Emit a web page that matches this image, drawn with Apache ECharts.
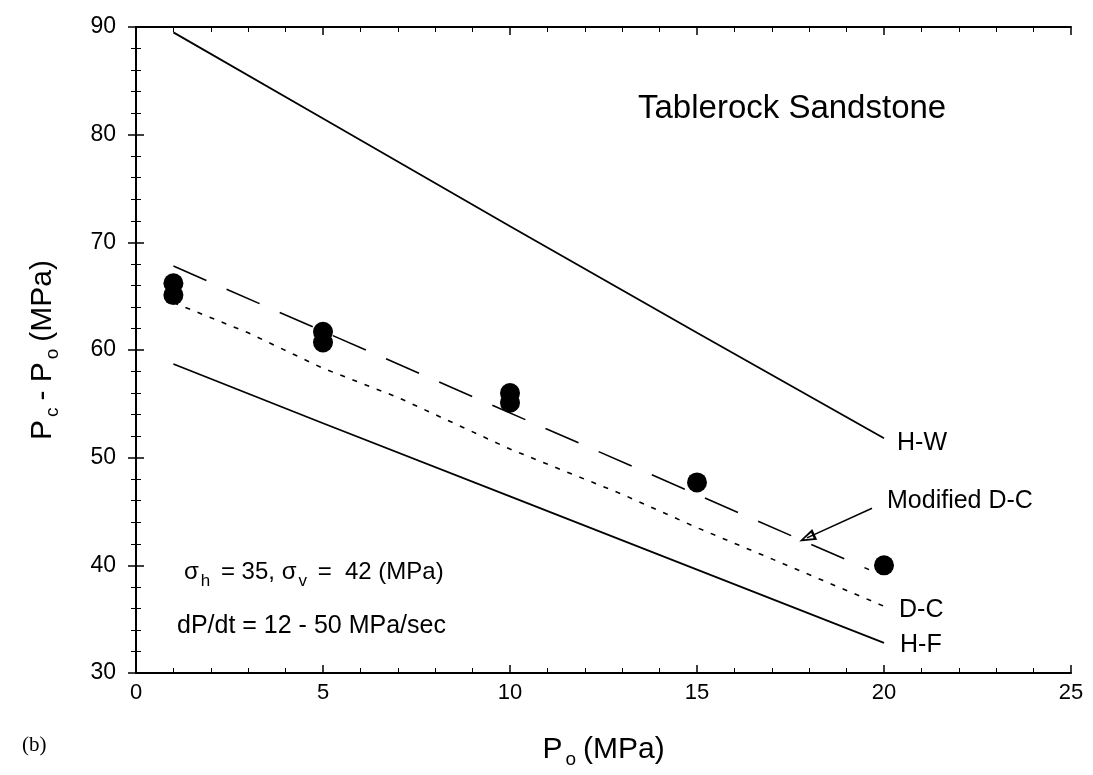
<!DOCTYPE html>
<html>
<head>
<meta charset="utf-8">
<title>Tablerock Sandstone</title>
<script src="https://cdn.jsdelivr.net/npm/echarts@6/dist/echarts.min.js"></script>
<style>
  html, body { margin: 0; padding: 0; background: #fff; }
  #chart { width: 1093px; height: 775px; }
</style>
</head>
<body>
<div id="chart"></div>
<script>
// 数据
const poHW = [1, 5, 10, 15, 20];
const valHW = [89.5, 81.5, 71.5, 61.6, 51.8];
const poHF = [1, 5, 10, 15, 20];
const valHF = [58.7, 53.2, 46.4, 39.6, 32.8];
const poDC = [1, 3, 5, 7, 10, 13, 15, 17, 20];
const valDC = [64.4, 61.6, 58.3, 55.6, 50.8, 46.6, 43.5, 40.6, 36.2];
const poMDC = [1, 19.6];
const valMDC = [67.8, 39.6];
const poTest = [1, 1, 5, 5, 10, 10, 15, 20];
const valTest = [66.2, 65.1, 61.7, 60.7, 56.0, 55.1, 47.7, 40.0];
const arrowFrom = [19.68, 45.3];
const arrowTo = [17.94, 42.55];
const xTicks = [0, 25, 5];   // min, max, interval
const yTicks = [30, 90, 10];

const FONT = '"Liberation Sans", Arial, sans-serif';
const zip = (xs, ys) => xs.map((x, i) => [x, ys[i]]);

const chart = echarts.init(document.getElementById('chart'), null, { renderer: 'canvas' });

// 坐标轴公共样式（刻度朝内，四边都有）
function axis(extra) {
  return Object.assign({
    type: 'value',
    axisLine: { lineStyle: { color: '#000', width: 2 } },
    axisTick: { inside: true, length: 8, lineStyle: { color: '#000', width: 1.5 } },
    minorTick: { show: true, splitNumber: 5, length: 5, lineStyle: { color: '#000', width: 1 } },
    splitLine: { show: false },
  }, extra);
}

const nameRich = {
  p: { fontFamily: FONT, fontSize: 30, color: '#000' },
  s: { fontFamily: FONT, fontSize: 19, color: '#000', padding: [19, 7, 0, 3] },
};

function lineSeries(name, data, type, label, offset) {
  return {
    name, type: 'line', data, symbol: 'none', z: 3,
    lineStyle: { color: '#000', width: type === 'solid' ? 1.8 : 1.6, type },
    endLabel: {
      show: !!label, formatter: label, color: '#000', fontFamily: FONT, fontSize: 25,
      offset: offset || [0, 0],
    },
  };
}

chart.setOption({
  backgroundColor: '#fff',
  animation: false,
  grid: { left: 136, right: 22, top: 27, bottom: 102 },
  xAxis: [
    axis({
      min: xTicks[0], max: xTicks[1], interval: xTicks[2],
      axisLabel: { color: '#000', fontFamily: FONT, fontSize: 22, margin: 9 },
      name: '{p|P}{s|o}{p|(MPa)}', nameLocation: 'middle', nameGap: 58,
      nameTextStyle: { rich: nameRich },
    }),
    axis({ position: 'top', min: xTicks[0], max: xTicks[1], interval: xTicks[2], axisLabel: { show: false } }),
  ],
  yAxis: [
    axis({
      min: yTicks[0], max: yTicks[1], interval: yTicks[2],
      axisLabel: { color: '#000', fontFamily: FONT, fontSize: 23, margin: 20 },
      name: '{p|P}{s|c}{p|- P}{s|o}{p|(MPa)}', nameLocation: 'middle', nameGap: 74, nameRotate: 90,
      nameTextStyle: { rich: nameRich },
    }),
    axis({ position: 'right', min: yTicks[0], max: yTicks[1], interval: yTicks[2], axisLabel: { show: false } }),
  ],
  series: [
    lineSeries('H-W', zip(poHW, valHW), 'solid', 'H-W', [5, 5]),
    lineSeries('H-F', zip(poHF, valHF), 'solid', 'H-F', [8, 2]),
    lineSeries('D-C', zip(poDC, valDC), [5, 8], 'D-C', [7, 4]),
    Object.assign(lineSeries('Modified D-C', zip(poMDC, valMDC), [36, 22], null), {
      markLine: {
        silent: true,
        symbol: ['none', 'path://M5,0 L10,20 L0,20 Z M5,6 L2.5,17 L7.5,17 Z'],
        symbolSize: [12, 17],
        lineStyle: { color: '#000', width: 1.5, type: 'solid' },
        label: { show: false },
        data: [[{ coord: arrowFrom }, { coord: arrowTo }]],
      },
    }),
    {
      name: 'Test', type: 'scatter', data: zip(poTest, valTest), z: 4,
      symbol: 'circle', symbolSize: 20, itemStyle: { color: '#000', opacity: 1 },
    },
  ],
  graphic: [
    { type: 'text', x: 638, y: 109, style: { text: 'Tablerock Sandstone', font: '33px ' + FONT, fill: '#000', verticalAlign: 'middle' } },
    { type: 'text', x: 887, y: 501, style: { text: 'Modified D-C', font: '25px ' + FONT, fill: '#000', verticalAlign: 'middle' } },
    {
      type: 'text', x: 184, y: 572,
      style: {
        text: '{t|σ}{s|h}{t| = 35, σ}{s|v}{t| =  42 (MPa)}',
        verticalAlign: 'middle',
        rich: {
          t: { font: '24px ' + FONT, fill: '#000' },
          s: { font: '17px ' + FONT, fill: '#000', padding: [19, 4, 0, 2] },
        },
      },
    },
    { type: 'text', x: 177, y: 626, style: { text: 'dP/dt = 12 - 50 MPa/sec', font: '25px ' + FONT, fill: '#000', verticalAlign: 'middle' } },
    { type: 'text', x: 22, y: 745, style: { text: '(b)', font: '21px "Liberation Serif", serif', fill: '#000', verticalAlign: 'middle' } },
  ],
});
</script>
</body>
</html>
